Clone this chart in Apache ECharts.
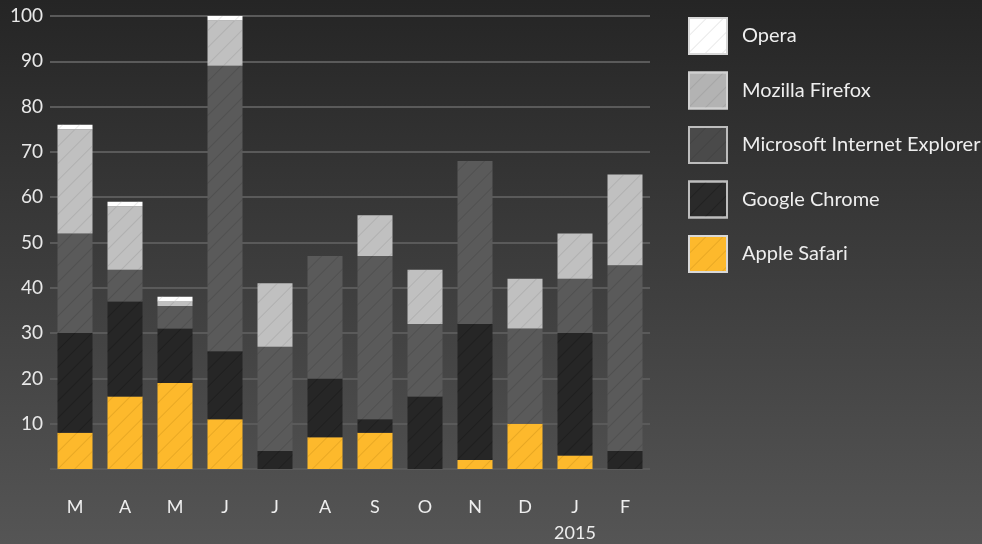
<!DOCTYPE html>
<html>
<head>
<meta charset="utf-8">
<script src="https://cdn.jsdelivr.net/npm/echarts@6/dist/echarts.min.js"></script>
<style>
html,body{margin:0;padding:0;width:982px;height:544px;overflow:hidden;background:#333;}
#chart{width:982px;height:544px;}
</style>
</head>
<body>
<div id="chart"></div>
<script>
const categories = ['M', 'A', 'M', 'J', 'J', 'A', 'S', 'O', 'N', 'D', 'J\n2015', 'F'];
const yTicks = [10, 20, 30, 40, 50, 60, 70, 80, 90, 100];
const safari  = [8, 16, 19, 11, 0, 7, 8, 0, 2, 10, 3, 0];
const chrome  = [22, 21, 12, 15, 4, 13, 3, 16, 30, 0, 27, 4];
const ie      = [22, 7, 5, 63, 23, 27, 36, 16, 36, 21, 12, 41];
const firefox = [23, 14, 1, 10, 14, 0, 9, 12, 0, 11, 10, 20];
const opera   = [1, 1, 1, 1, 0, 0, 0, 0, 0, 0, 0, 0];

const FONT = 'Lato';
const hatch = (c) => ({
  symbol: 'rect',
  symbolSize: 1,
  dashArrayX: [[1, 0]],
  dashArrayY: [1, 11],
  rotation: -Math.PI / 4,
  color: c
});

function mk(name, data, color, hatchColor) {
  return {
    name: name,
    type: 'bar',
    stack: 'total',
    data: data,
    barCategoryGap: '30%',
    itemStyle: { color: color, decal: hatch(hatchColor) },
    emphasis: { disabled: true }
  };
}

const chart = echarts.init(document.getElementById('chart'));
chart.setOption({
  animation: false,
  backgroundColor: {
    type: 'linear', x: 0, y: 0, x2: 0, y2: 1,
    colorStops: [
      { offset: 0, color: '#252525' },
      { offset: 1, color: '#555555' }
    ]
  },
  textStyle: { fontFamily: FONT },
  grid: { left: 50, right: 332, top: 16, bottom: 75, outerBoundsMode: 'none', containLabel: false },
  legend: {
    orient: 'vertical',
    left: 683,
    top: 12,
    itemWidth: 38,
    itemHeight: 36,
    itemGap: 16.5,
    icon: 'rect',
    textStyle: { color: '#eeeeee', fontSize: 20, fontFamily: FONT, padding: [0, 0, 0, 10] },
    selectedMode: false,
    data: [
      { name: 'Opera', itemStyle: { color: '#ffffff', borderColor: '#d8d8d8', borderWidth: 2 } },
      { name: 'Mozilla Firefox', itemStyle: { color: '#b3b3b3', borderColor: '#d0d0d0', borderWidth: 2 } },
      { name: 'Microsoft Internet Explorer', itemStyle: { color: '#4a4a4a', borderColor: '#bdbdbd', borderWidth: 2 } },
      { name: 'Google Chrome', itemStyle: { color: '#2a2a2a', borderColor: '#bdbdbd', borderWidth: 2 } },
      { name: 'Apple Safari', itemStyle: { color: '#fdb92c', borderColor: '#d8d8d8', borderWidth: 2 } }
    ]
  },
  xAxis: {
    type: 'category',
    data: categories,
    axisLine: { show: false },
    axisTick: { show: false },
    axisLabel: { interval: 0, color: '#eeeeee', fontSize: 18, margin: 25, lineHeight: 26, fontFamily: FONT }
  },
  yAxis: {
    type: 'value',
    min: 0,
    max: 100,
    interval: 10,
    axisLine: { show: false },
    axisTick: { show: false },
    axisLabel: {
      color: '#e8e8e8', fontSize: 19, margin: 7, fontFamily: FONT,
      showMinLabel: false,
      formatter: (v) => (yTicks.indexOf(v) >= 0 ? String(v) : '')
    },
    splitLine: { lineStyle: { color: '#5a5a5a', width: 2 } }
  },
  series: [
    mk('Apple Safari', safari, '#fdb92c', 'rgba(150,100,0,0.2)'),
    mk('Google Chrome', chrome, '#262626', 'rgba(0,0,0,0.2)'),
    mk('Microsoft Internet Explorer', ie, '#5a5a5a', 'rgba(40,40,40,0.2)'),
    mk('Mozilla Firefox', firefox, '#c0c0c0', 'rgba(120,120,120,0.22)'),
    mk('Opera', opera, '#ffffff', 'rgba(200,200,200,0.4)')
  ]
});
</script>
</body>
</html>
